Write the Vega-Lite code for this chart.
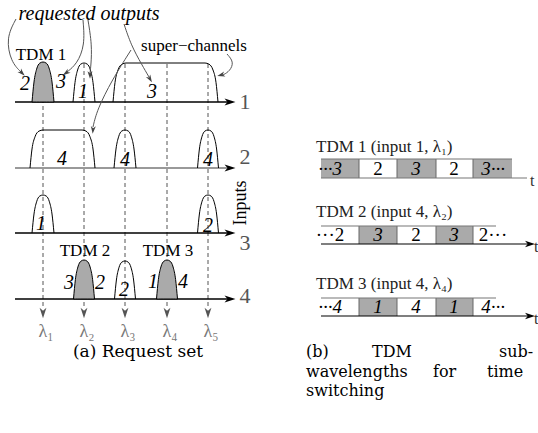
{
  "$schema": "https://vega.github.io/schema/vega-lite/v6.json",
  "width": 538,
  "height": 433,
  "padding": 0,
  "autosize": {"type": "none"},
  "background": "white",
  "config": {"view": {"stroke": null}, "font": "Liberation Serif", "text": {"font": "Liberation Serif"}},
  "datasets": {
    "lams": [
      {"lam": 1, "x": 43, "y1": 64, "y2": 309, "lx": 46, "label": "λ₁"},
      {"lam": 2, "x": 84, "y1": 64, "y2": 309, "lx": 87, "label": "λ₂"},
      {"lam": 3, "x": 125, "y1": 64, "y2": 309, "lx": 128, "label": "λ₃"},
      {"lam": 4, "x": 167, "y1": 64, "y2": 309, "lx": 170, "label": "λ₄"},
      {"lam": 5, "x": 208, "y1": 64, "y2": 309, "lx": 211, "label": "λ₅"}
    ],
    "inputs": [
      {"input": 1, "y": 102, "x1": 15, "x2": 228, "ly": 102, "label": "1"},
      {"input": 2, "y": 168, "x1": 15, "x2": 228, "ly": 157, "label": "2"},
      {"input": 3, "y": 233, "x1": 15, "x2": 228, "ly": 243, "label": "3"},
      {"input": 4, "y": 299, "x1": 15, "x2": 228, "ly": 296, "label": "4"}
    ],
    "peaksW": [
      {"id": "p2", "x": 73, "y": 102}, {"id": "p2", "x": 75, "y": 82.5}, {"id": "p2", "x": 77.6, "y": 70}, {"id": "p2", "x": 80.7, "y": 64.2}, {"id": "p2", "x": 84, "y": 63}, {"id": "p2", "x": 87.3, "y": 64.2}, {"id": "p2", "x": 90.4, "y": 70}, {"id": "p2", "x": 93, "y": 82.5}, {"id": "p2", "x": 95, "y": 102},
      {"id": "p3", "x": 114, "y": 168}, {"id": "p3", "x": 116, "y": 149}, {"id": "p3", "x": 118.6, "y": 136.8}, {"id": "p3", "x": 121.7, "y": 131.1}, {"id": "p3", "x": 125, "y": 130}, {"id": "p3", "x": 128.3, "y": 131.1}, {"id": "p3", "x": 131.4, "y": 136.8}, {"id": "p3", "x": 134, "y": 149}, {"id": "p3", "x": 136, "y": 168},
      {"id": "p4", "x": 197.5, "y": 168}, {"id": "p4", "x": 199.4, "y": 149}, {"id": "p4", "x": 201.9, "y": 136.8}, {"id": "p4", "x": 204.9, "y": 131.1}, {"id": "p4", "x": 208, "y": 130}, {"id": "p4", "x": 211.1, "y": 131.1}, {"id": "p4", "x": 214.1, "y": 136.8}, {"id": "p4", "x": 216.6, "y": 149}, {"id": "p4", "x": 218.5, "y": 168},
      {"id": "p5", "x": 32, "y": 233}, {"id": "p5", "x": 34, "y": 214}, {"id": "p5", "x": 36.6, "y": 201.8}, {"id": "p5", "x": 39.7, "y": 196.1}, {"id": "p5", "x": 43, "y": 195}, {"id": "p5", "x": 46.3, "y": 196.1}, {"id": "p5", "x": 49.4, "y": 201.8}, {"id": "p5", "x": 52, "y": 214}, {"id": "p5", "x": 54, "y": 233},
      {"id": "p6", "x": 197.5, "y": 233}, {"id": "p6", "x": 199.4, "y": 214}, {"id": "p6", "x": 201.9, "y": 201.8}, {"id": "p6", "x": 204.9, "y": 196.1}, {"id": "p6", "x": 208, "y": 195}, {"id": "p6", "x": 211.1, "y": 196.1}, {"id": "p6", "x": 214.1, "y": 201.8}, {"id": "p6", "x": 216.6, "y": 214}, {"id": "p6", "x": 218.5, "y": 233},
      {"id": "p8", "x": 114.5, "y": 299}, {"id": "p8", "x": 116.4, "y": 280}, {"id": "p8", "x": 118.9, "y": 267.8}, {"id": "p8", "x": 121.9, "y": 262.1}, {"id": "p8", "x": 125, "y": 261}, {"id": "p8", "x": 128.1, "y": 262.1}, {"id": "p8", "x": 131.1, "y": 267.8}, {"id": "p8", "x": 133.6, "y": 280}, {"id": "p8", "x": 135.5, "y": 299},
      {"id": "sc1", "x": 113, "y": 102}, {"id": "sc1", "x": 115, "y": 82.5}, {"id": "sc1", "x": 118, "y": 70}, {"id": "sc1", "x": 122, "y": 64.2}, {"id": "sc1", "x": 126, "y": 63}, {"id": "sc1", "x": 205, "y": 63}, {"id": "sc1", "x": 209, "y": 64.2}, {"id": "sc1", "x": 213, "y": 70}, {"id": "sc1", "x": 216, "y": 82.5}, {"id": "sc1", "x": 218, "y": 102},
      {"id": "sc2", "x": 30, "y": 168}, {"id": "sc2", "x": 32, "y": 149}, {"id": "sc2", "x": 35, "y": 136.8}, {"id": "sc2", "x": 39, "y": 131.1}, {"id": "sc2", "x": 43, "y": 130}, {"id": "sc2", "x": 82, "y": 130}, {"id": "sc2", "x": 86, "y": 131.1}, {"id": "sc2", "x": 90, "y": 136.8}, {"id": "sc2", "x": 93, "y": 149}, {"id": "sc2", "x": 95, "y": 168}
    ],
    "peaksG": [
      {"id": "p1", "x": 32, "y": 102, "b": 102}, {"id": "p1", "x": 34, "y": 82, "b": 102}, {"id": "p1", "x": 36.6, "y": 69.2, "b": 102}, {"id": "p1", "x": 39.7, "y": 63.2, "b": 102}, {"id": "p1", "x": 43, "y": 62, "b": 102}, {"id": "p1", "x": 46.3, "y": 63.2, "b": 102}, {"id": "p1", "x": 49.4, "y": 69.2, "b": 102}, {"id": "p1", "x": 52, "y": 82, "b": 102}, {"id": "p1", "x": 54, "y": 102, "b": 102},
      {"id": "p7", "x": 73.5, "y": 299, "b": 299}, {"id": "p7", "x": 75.4, "y": 279.5, "b": 299}, {"id": "p7", "x": 77.9, "y": 267, "b": 299}, {"id": "p7", "x": 80.9, "y": 261.2, "b": 299}, {"id": "p7", "x": 84, "y": 260, "b": 299}, {"id": "p7", "x": 87.1, "y": 261.2, "b": 299}, {"id": "p7", "x": 90.1, "y": 267, "b": 299}, {"id": "p7", "x": 92.6, "y": 279.5, "b": 299}, {"id": "p7", "x": 94.5, "y": 299, "b": 299},
      {"id": "p9", "x": 156.5, "y": 299, "b": 299}, {"id": "p9", "x": 158.4, "y": 279.5, "b": 299}, {"id": "p9", "x": 160.9, "y": 267, "b": 299}, {"id": "p9", "x": 163.9, "y": 261.2, "b": 299}, {"id": "p9", "x": 167, "y": 260, "b": 299}, {"id": "p9", "x": 170.1, "y": 261.2, "b": 299}, {"id": "p9", "x": 173.1, "y": 267, "b": 299}, {"id": "p9", "x": 175.6, "y": 279.5, "b": 299}, {"id": "p9", "x": 177.5, "y": 299, "b": 299}
    ],
    "curves": [
      {"id": "a1", "o": 1, "x": 16, "y": 19}, {"id": "a1", "o": 2, "x": 6, "y": 38}, {"id": "a1", "o": 3, "x": 11, "y": 62}, {"id": "a1", "o": 4, "x": 21, "y": 72},
      {"id": "a2", "o": 1, "x": 83, "y": 20}, {"id": "a2", "o": 2, "x": 85, "y": 45}, {"id": "a2", "o": 3, "x": 77, "y": 64}, {"id": "a2", "o": 4, "x": 67, "y": 72},
      {"id": "a3", "o": 1, "x": 88, "y": 20}, {"id": "a3", "o": 2, "x": 92, "y": 45}, {"id": "a3", "o": 3, "x": 91, "y": 65}, {"id": "a3", "o": 4, "x": 90, "y": 73},
      {"id": "a4", "o": 1, "x": 124, "y": 24}, {"id": "a4", "o": 2, "x": 131, "y": 45}, {"id": "a4", "o": 3, "x": 142, "y": 65}, {"id": "a4", "o": 4, "x": 149, "y": 77},
      {"id": "a5", "o": 1, "x": 131, "y": 50}, {"id": "a5", "o": 2, "x": 112, "y": 80}, {"id": "a5", "o": 3, "x": 97, "y": 110}, {"id": "a5", "o": 4, "x": 93, "y": 127},
      {"id": "a6", "o": 1, "x": 227, "y": 54}, {"id": "a6", "o": 2, "x": 234, "y": 62}, {"id": "a6", "o": 3, "x": 230, "y": 71}, {"id": "a6", "o": 4, "x": 223, "y": 75}
    ],
    "heads": [
      {"x": 22, "y": 73, "angle": 135}, {"x": 66, "y": 73, "angle": 235}, {"x": 90, "y": 75, "angle": 180},
      {"x": 150, "y": 79, "angle": 150}, {"x": 93, "y": 130, "angle": 185}, {"x": 221, "y": 75, "angle": 255}
    ],
    "numsA": [
      {"x": 25, "y": 84, "t": "2"}, {"x": 61, "y": 82, "t": "3"}, {"x": 83, "y": 92, "t": "1"}, {"x": 152, "y": 92, "t": "3"},
      {"x": 62, "y": 159, "t": "4"}, {"x": 125, "y": 160, "t": "4"}, {"x": 208, "y": 160, "t": "4"},
      {"x": 41, "y": 224, "t": "1"}, {"x": 208, "y": 226, "t": "2"},
      {"x": 69, "y": 283, "t": "3"}, {"x": 100, "y": 283, "t": "2"}, {"x": 124, "y": 290, "t": "2"}, {"x": 153, "y": 282, "t": "1"}, {"x": 183, "y": 282, "t": "4"}
    ],
    "labelsA": [
      {"x": 41, "y": 55, "t": "TDM 1"}, {"x": 85, "y": 251, "t": "TDM 2"}, {"x": 168, "y": 251, "t": "TDM 3"}, {"x": 194, "y": 46, "t": "super−channels"}
    ],
    "req": [{"x": 89, "y": 14, "t": "requested outputs"}],
    "cells": [
      {"x0": 321, "x1": 359, "y0": 159, "y1": 178, "shade": "g"}, {"x0": 359, "x1": 397, "y0": 159, "y1": 178, "shade": "w"}, {"x0": 397, "x1": 436, "y0": 159, "y1": 178, "shade": "g"}, {"x0": 436, "x1": 473, "y0": 159, "y1": 178, "shade": "w"}, {"x0": 473, "x1": 512, "y0": 159, "y1": 178, "shade": "g"},
      {"x0": 359, "x1": 397, "y0": 226, "y1": 244, "shade": "g"}, {"x0": 436, "x1": 473, "y0": 226, "y1": 244, "shade": "g"},
      {"x0": 359, "x1": 397, "y0": 298, "y1": 316, "shade": "g"}, {"x0": 436, "x1": 473, "y0": 298, "y1": 316, "shade": "g"}
    ],
    "seps": [
      {"x": 359, "y0": 159, "y1": 178}, {"x": 397, "y0": 159, "y1": 178}, {"x": 436, "y0": 159, "y1": 178}, {"x": 473, "y0": 159, "y1": 178},
      {"x": 359, "y0": 226, "y1": 244}, {"x": 397, "y0": 226, "y1": 244}, {"x": 436, "y0": 226, "y1": 244}, {"x": 473, "y0": 226, "y1": 244},
      {"x": 359, "y0": 298, "y1": 316}, {"x": 397, "y0": 298, "y1": 316}, {"x": 436, "y0": 298, "y1": 316}, {"x": 473, "y0": 298, "y1": 316}
    ],
    "grayLines": [
      {"x0": 321, "x1": 512, "y": 159}, {"x0": 321, "x1": 527, "y": 178},
      {"x0": 321, "x1": 496, "y": 226}, {"x0": 321, "x1": 496, "y": 298}
    ],
    "blackAxes": [
      {"x0": 321, "x1": 528, "y": 244}, {"x0": 321, "x1": 528, "y": 316}
    ],
    "headsB": [{"x": 530, "y": 244}, {"x": 530, "y": 316}],
    "tLabels": [{"x": 530, "y": 181, "t": "t"}, {"x": 534, "y": 247, "t": "t"}, {"x": 534, "y": 319, "t": "t"}],
    "cellItalic": [
      {"x": 330, "y": 168.5, "t": "···3"}, {"x": 416, "y": 168.5, "t": "3"}, {"x": 493, "y": 168.5, "t": "3···"},
      {"x": 378, "y": 235, "t": "3"}, {"x": 454, "y": 235, "t": "3"},
      {"x": 330, "y": 307, "t": "···4"}, {"x": 378, "y": 307, "t": "1"}, {"x": 416, "y": 307, "t": "4"}, {"x": 454, "y": 307, "t": "1"}, {"x": 493, "y": 307, "t": "4···"}
    ],
    "cellUpright": [
      {"x": 378, "y": 168.5, "t": "2"}, {"x": 454, "y": 168.5, "t": "2"},
      {"x": 330, "y": 235, "t": "···2"}, {"x": 416, "y": 235, "t": "2"}, {"x": 493, "y": 235, "t": "2···"}
    ],
    "titlesB": [
      {"x": 316, "y": 147, "t": "TDM 1 (input 1, λ₁)"}, {"x": 316, "y": 212, "t": "TDM 2 (input 4, λ₂)"}, {"x": 316, "y": 284, "t": "TDM 3 (input 4, λ₄)"}
    ],
    "capA": [{"x": 138, "y": 352, "t": "(a) Request set"}],
    "capB": [
      {"x": 306, "y": 352, "t": "(b)"}, {"x": 372, "y": 352, "t": "TDM"}, {"x": 499, "y": 352, "t": "sub-"},
      {"x": 306, "y": 372, "t": "wavelengths"}, {"x": 433, "y": 372, "t": "for"}, {"x": 487, "y": 372, "t": "time"},
      {"x": 306, "y": 391, "t": "switching"}
    ],
    "inputsTitle": [{"x": 241, "y": 203, "t": "Inputs"}]
  },
  "layer": [
    {
      "data": {"name": "lams"},
      "mark": {"type": "rule", "color": "#555555", "strokeWidth": 1, "strokeDash": [4, 3]},
      "encoding": {
        "x": {"field": "x", "type": "quantitative", "scale": {"domain": [0, 538], "range": [0, 538], "nice": false, "zero": false}, "axis": null},
        "y": {"field": "y1", "type": "quantitative", "scale": {"domain": [0, 433], "range": [0, 433], "nice": false, "zero": false}, "axis": null},
        "y2": {"field": "y2"}
      }
    },
    {
      "data": {"name": "lams"},
      "mark": {"type": "point", "shape": "M0,-1L0.65,1L0,0.45L-0.65,1Z", "filled": true, "color": "#555555", "size": 110, "angle": 180, "opacity": 1},
      "encoding": {
        "x": {"field": "x", "type": "quantitative"},
        "y": {"datum": 313, "type": "quantitative"}
      }
    },
    {
      "data": {"name": "lams"},
      "mark": {"type": "text", "font": "Liberation Serif", "fontSize": 18, "color": "#777777", "baseline": "middle", "align": "center"},
      "encoding": {
        "x": {"field": "lx", "type": "quantitative"},
        "y": {"datum": 332, "type": "quantitative"},
        "text": {"field": "label"}
      }
    },
    {
      "data": {"name": "inputs"},
      "mark": {"type": "rule", "strokeWidth": 1.3},
      "encoding": {
        "x": {"field": "x1", "type": "quantitative"},
        "x2": {"field": "x2"},
        "y": {"field": "y", "type": "quantitative"},
        "stroke": {"field": "input", "type": "nominal", "scale": {"domain": [1, 2, 3, 4], "range": ["#000000", "#777777", "#000000", "#000000"]}, "legend": null}
      }
    },
    {
      "data": {"name": "inputs"},
      "mark": {"type": "point", "shape": "M0,-1L0.65,1L0,0.45L-0.65,1Z", "filled": true, "color": "#000000", "size": 120, "angle": 90, "opacity": 1},
      "encoding": {
        "x": {"datum": 230, "type": "quantitative"},
        "y": {"field": "y", "type": "quantitative"}
      }
    },
    {
      "data": {"name": "inputs"},
      "mark": {"type": "text", "font": "Liberation Serif", "fontSize": 22, "color": "#555555", "baseline": "middle", "align": "center"},
      "encoding": {
        "x": {"datum": 245, "type": "quantitative"},
        "y": {"field": "ly", "type": "quantitative"},
        "text": {"field": "label"}
      }
    },
    {
      "data": {"name": "inputsTitle"},
      "mark": {"type": "text", "font": "Liberation Serif", "fontSize": 18, "color": "#000000", "baseline": "middle", "align": "center", "angle": 270},
      "encoding": {
        "x": {"field": "x", "type": "quantitative"},
        "y": {"field": "y", "type": "quantitative"},
        "text": {"field": "t"}
      }
    },
    {
      "data": {"name": "peaksW"},
      "mark": {"type": "line", "interpolate": "monotone", "color": "#000000", "strokeWidth": 1},
      "encoding": {
        "x": {"field": "x", "type": "quantitative"},
        "y": {"field": "y", "type": "quantitative"},
        "detail": {"field": "id"}
      }
    },
    {
      "data": {"name": "peaksG"},
      "mark": {"type": "area", "interpolate": "monotone", "fill": "#aaaaaa", "stroke": "#000000", "strokeWidth": 1, "opacity": 1, "fillOpacity": 1},
      "encoding": {
        "x": {"field": "x", "type": "quantitative"},
        "y": {"field": "y", "type": "quantitative"},
        "y2": {"field": "b"},
        "detail": {"field": "id"}
      }
    },
    {
      "data": {"name": "curves"},
      "mark": {"type": "line", "interpolate": "basis", "color": "#555555", "strokeWidth": 1},
      "encoding": {
        "x": {"field": "x", "type": "quantitative"},
        "y": {"field": "y", "type": "quantitative"},
        "detail": {"field": "id"},
        "order": {"field": "o"}
      }
    },
    {
      "data": {"name": "heads"},
      "mark": {"type": "point", "shape": "M0,-1L0.65,1L0,0.45L-0.65,1Z", "filled": true, "color": "#444444", "size": 60, "opacity": 1},
      "encoding": {
        "x": {"field": "x", "type": "quantitative"},
        "y": {"field": "y", "type": "quantitative"},
        "angle": {"field": "angle", "type": "quantitative", "scale": null}
      }
    },
    {
      "data": {"name": "numsA"},
      "mark": {"type": "text", "font": "Liberation Serif", "fontStyle": "italic", "fontSize": 20, "color": "#000000", "baseline": "middle", "align": "center"},
      "encoding": {
        "x": {"field": "x", "type": "quantitative"},
        "y": {"field": "y", "type": "quantitative"},
        "text": {"field": "t"}
      }
    },
    {
      "data": {"name": "labelsA"},
      "mark": {"type": "text", "font": "Liberation Serif", "fontSize": 17, "color": "#000000", "baseline": "middle", "align": "center"},
      "encoding": {
        "x": {"field": "x", "type": "quantitative"},
        "y": {"field": "y", "type": "quantitative"},
        "text": {"field": "t"}
      }
    },
    {
      "data": {"name": "req"},
      "mark": {"type": "text", "font": "Liberation Serif", "fontStyle": "italic", "fontSize": 20, "color": "#000000", "baseline": "middle", "align": "center"},
      "encoding": {
        "x": {"field": "x", "type": "quantitative"},
        "y": {"field": "y", "type": "quantitative"},
        "text": {"field": "t"}
      }
    },
    {
      "data": {"name": "cells"},
      "mark": {"type": "rect", "strokeWidth": 0},
      "encoding": {
        "x": {"field": "x0", "type": "quantitative"},
        "x2": {"field": "x1"},
        "y": {"field": "y0", "type": "quantitative"},
        "y2": {"field": "y1"},
        "fill": {"field": "shade", "type": "nominal", "scale": {"domain": ["g", "w"], "range": ["#aaaaaa", "#ffffff"]}, "legend": null}
      }
    },
    {
      "data": {"name": "seps"},
      "mark": {"type": "rule", "color": "#666666", "strokeWidth": 1},
      "encoding": {
        "x": {"field": "x", "type": "quantitative"},
        "y": {"field": "y0", "type": "quantitative"},
        "y2": {"field": "y1"}
      }
    },
    {
      "data": {"name": "grayLines"},
      "mark": {"type": "rule", "color": "#777777", "strokeWidth": 1.2},
      "encoding": {
        "x": {"field": "x0", "type": "quantitative"},
        "x2": {"field": "x1"},
        "y": {"field": "y", "type": "quantitative"}
      }
    },
    {
      "data": {"name": "blackAxes"},
      "mark": {"type": "rule", "color": "#000000", "strokeWidth": 1.2},
      "encoding": {
        "x": {"field": "x0", "type": "quantitative"},
        "x2": {"field": "x1"},
        "y": {"field": "y", "type": "quantitative"}
      }
    },
    {
      "data": {"name": "headsB"},
      "mark": {"type": "point", "shape": "M0,-1L0.65,1L0,0.45L-0.65,1Z", "filled": true, "color": "#000000", "size": 100, "angle": 90, "opacity": 1},
      "encoding": {
        "x": {"field": "x", "type": "quantitative"},
        "y": {"field": "y", "type": "quantitative"}
      }
    },
    {
      "data": {"name": "tLabels"},
      "mark": {"type": "text", "font": "Liberation Serif", "fontSize": 16, "color": "#333333", "baseline": "middle", "align": "left"},
      "encoding": {
        "x": {"field": "x", "type": "quantitative"},
        "y": {"field": "y", "type": "quantitative"},
        "text": {"field": "t"}
      }
    },
    {
      "data": {"name": "cellItalic"},
      "mark": {"type": "text", "font": "Liberation Serif", "fontStyle": "italic", "fontSize": 19, "color": "#000000", "baseline": "middle", "align": "center"},
      "encoding": {
        "x": {"field": "x", "type": "quantitative"},
        "y": {"field": "y", "type": "quantitative"},
        "text": {"field": "t"}
      }
    },
    {
      "data": {"name": "cellUpright"},
      "mark": {"type": "text", "font": "Liberation Serif", "fontSize": 19, "color": "#000000", "baseline": "middle", "align": "center"},
      "encoding": {
        "x": {"field": "x", "type": "quantitative"},
        "y": {"field": "y", "type": "quantitative"},
        "text": {"field": "t"}
      }
    },
    {
      "data": {"name": "titlesB"},
      "mark": {"type": "text", "font": "Liberation Serif", "fontSize": 17, "color": "#222222", "baseline": "middle", "align": "left"},
      "encoding": {
        "x": {"field": "x", "type": "quantitative"},
        "y": {"field": "y", "type": "quantitative"},
        "text": {"field": "t"}
      }
    },
    {
      "data": {"name": "capA"},
      "mark": {"type": "text", "font": "DejaVu Serif", "fontSize": 17, "color": "#000000", "baseline": "middle", "align": "center"},
      "encoding": {
        "x": {"field": "x", "type": "quantitative"},
        "y": {"field": "y", "type": "quantitative"},
        "text": {"field": "t"}
      }
    },
    {
      "data": {"name": "capB"},
      "mark": {"type": "text", "font": "DejaVu Serif", "fontSize": 16, "color": "#000000", "baseline": "middle", "align": "left"},
      "encoding": {
        "x": {"field": "x", "type": "quantitative"},
        "y": {"field": "y", "type": "quantitative"},
        "text": {"field": "t"}
      }
    }
  ]
}
